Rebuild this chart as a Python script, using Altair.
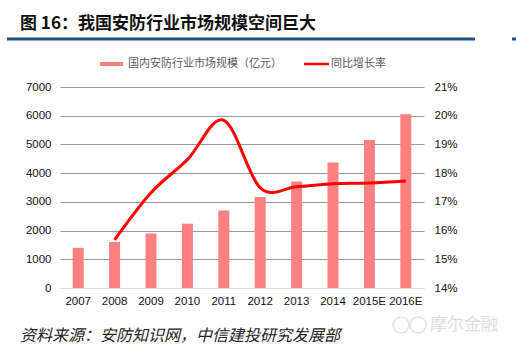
import altair as alt
import pandas as pd

years = ["2007", "2008", "2009", "2010", "2011", "2012", "2013", "2014", "2015E", "2016E"]
market = [1400, 1600, 1900, 2240, 2700, 3170, 3710, 4370, 5150, 6050]
growth_years = ["2008", "2009", "2010", "2011", "2012", "2013", "2014", "2015E", "2016E"]
growth = [0.1568, 0.1732, 0.1847, 0.1984, 0.1749, 0.1753, 0.1763, 0.1766, 0.1773]
left_ticks = [0, 1000, 2000, 3000, 4000, 5000, 6000, 7000]
right_ticks = [0.14, 0.15, 0.16, 0.17, 0.18, 0.19, 0.20, 0.21]

title_text = "图 16：我国安防行业市场规模空间巨大"
legend_bar = "国内安防行业市场规模（亿元）"
legend_line = "同比增长率"
source_text = "资料来源：安防知识网，中信建投研究发展部"
watermark = "摩尔金融"

CJK = "Noto Sans CJK SC"
LAT = "Liberation Sans"

df_bar = pd.DataFrame({"year": years, "value": market})
df_line = pd.DataFrame({"year": growth_years, "rate": growth})

xenc = alt.X("year:N", sort=years, title=None,
             scale=alt.Scale(paddingInner=0, paddingOuter=0),
             axis=alt.Axis(labelAngle=0, ticks=False, domain=True, domainColor="#d9d9d9",
                           domainWidth=1, labelPadding=7, labelFont=LAT, labelFontSize=11.5,
                           labelColor="#111111", grid=False))

bars = alt.Chart(df_bar).mark_bar(size=11, color="#FF8080").encode(
    x=xenc,
    y=alt.Y("value:Q", title=None,
            scale=alt.Scale(domain=[0, 7000], nice=False),
            axis=alt.Axis(orient="left", values=left_ticks, format="d", ticks=False, domain=False,
                          grid=True,
                          gridColor=alt.condition("datum.value == 0", alt.value("#d9d9d9"), alt.value("#8c8c8c")),
                          gridWidth=0.9, labelPadding=9, labelFont=LAT,
                          labelFontSize=11.5, labelColor="#111111")),
)

line = alt.Chart(df_line).mark_line(color="#FF0000", strokeWidth=3,
                                    interpolate="cardinal", tension=0).encode(
    x=alt.X("year:N", sort=years),
    y=alt.Y("rate:Q", title=None,
            scale=alt.Scale(domain=[0.14, 0.21], nice=False, zero=False),
            axis=alt.Axis(orient="right", values=right_ticks, format=".0%", ticks=False,
                          domain=False, grid=False, labelPadding=10, labelFont=LAT,
                          labelFontSize=11.5, labelColor="#111111")),
)

one = pd.DataFrame({"k": [0]})

title = alt.Chart(pd.DataFrame({"t": [title_text]})).mark_text(
    align="left", baseline="middle", font=CJK, fontSize=17, fontWeight="bold", color="#111111"
).encode(text="t:N", x=alt.value(-40), y=alt.value(-63))

rule1 = alt.Chart(one).mark_rule(color="#1B4F85", strokeWidth=3).encode(
    x=alt.value(-53), x2=alt.value(415), y=alt.value(-48))
rule2 = alt.Chart(one).mark_rule(color="#1B4F85", strokeWidth=3).encode(
    x=alt.value(452), x2=alt.value(456), y=alt.value(-48))

leg_rect = alt.Chart(one).mark_rect(color="#FF8080").encode(
    x=alt.value(40), x2=alt.value(63), y=alt.value(-25), y2=alt.value(-21))
leg_text1 = alt.Chart(pd.DataFrame({"t": [legend_bar]})).mark_text(
    align="left", baseline="middle", font=CJK, fontSize=11, color="#595959"
).encode(text="t:N", x=alt.value(68), y=alt.value(-23))
leg_line = alt.Chart(one).mark_rule(color="#FF0000", strokeWidth=2.5).encode(
    x=alt.value(244), x2=alt.value(269), y=alt.value(-23))
leg_text2 = alt.Chart(pd.DataFrame({"t": [legend_line]})).mark_text(
    align="left", baseline="middle", font=CJK, fontSize=11, color="#595959"
).encode(text="t:N", x=alt.value(271), y=alt.value(-23))

source = alt.Chart(pd.DataFrame({"t": [source_text]})).mark_text(
    align="left", baseline="middle", font=CJK, fontSize=16, fontStyle="italic", color="#222222"
).encode(text="t:N", x=alt.value(-40), y=alt.value(249))

wm_text = alt.Chart(pd.DataFrame({"t": [watermark]})).mark_text(
    align="left", baseline="middle", font=CJK, fontSize=17, color="#dedede"
).encode(text="t:N", x=alt.value(370), y=alt.value(238))
wm_c1 = alt.Chart(one).mark_point(shape="circle", filled=False, size=256, color="#dedede",
                                  strokeWidth=2).encode(x=alt.value(341), y=alt.value(238))
wm_c2 = alt.Chart(one).mark_point(shape="circle", filled=False, size=256, color="#dedede",
                                  strokeWidth=2).encode(x=alt.value(358), y=alt.value(238))

chart = alt.layer(
    bars, line, title, rule1, rule2, leg_rect, leg_text1, leg_line, leg_text2,
    source, wm_c1, wm_c2, wm_text
).resolve_scale(y="independent").properties(
    width=364, height=201,
    autosize=alt.AutoSizeParams(type="none"),
    padding={"left": 60, "top": 87, "right": 92, "bottom": 64},
    background="white",
).configure_view(strokeWidth=0)

chart.save("out.html", embed_options={"renderer": "svg", "actions": False})
